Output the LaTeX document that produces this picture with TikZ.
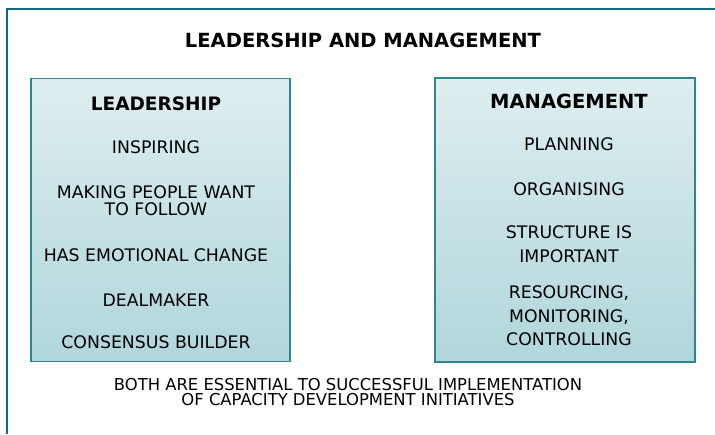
\documentclass[tikz,border=0pt]{standalone}
\usepackage{fontspec}
\setmainfont{DejaVu Sans}
\definecolor{framecol}{HTML}{0F6A80}
\definecolor{boxline}{HTML}{2F8490}
\definecolor{boxtop}{HTML}{DEEEF0}
\definecolor{boxbot}{HTML}{B0D6DB}
\begin{document}
\begin{tikzpicture}[x=1pt,y=-1pt,
  panel/.style={draw=boxline, line width=1.6pt, top color=boxtop, bottom color=boxbot, inner sep=0pt},
  heading/.style={font=\fontsize{18.5}{18.5}\selectfont\bfseries, inner sep=0pt, align=center},
  itemL/.style={font=\fontsize{17.3}{17}\selectfont, inner sep=0pt, align=center},
  itemR/.style={font=\fontsize{17.3}{23.5}\selectfont, inner sep=0pt, align=center},
  foottext/.style={font=\fontsize{16.4}{15}\selectfont, inner sep=0pt, align=center}]
\useasboundingbox (0,0) rectangle (715,434);
\fill[white] (0,0) rectangle (715,434);
% outer frame (open at right and bottom)
\draw[framecol, line width=2.6pt] (7,434) -- (7,9) -- (715,9);
% title
\node[heading, font=\fontsize{19.5}{19.5}\selectfont\bfseries] (title) at (363,40) {LEADERSHIP AND MANAGEMENT};
% panels
\node[panel, minimum width=259pt, minimum height=283pt] (lbox) at (160.5,220) {};
\node[panel, minimum width=260pt, minimum height=284pt] (mbox) at (565,220) {};
% leadership
\node[heading] (lhead) at (156,104) {LEADERSHIP};
\node[itemL] (l1) at (156,147) {INSPIRING};
\node[itemL] (l2) at (156,200.5) {MAKING PEOPLE WANT\\TO FOLLOW};
\node[itemL] (l3) at (156,255) {HAS EMOTIONAL CHANGE};
\node[itemL] (l4) at (156,300) {DEALMAKER};
\node[itemL] (l5) at (156,342) {CONSENSUS BUILDER};
% management
\node[heading, font=\fontsize{19.5}{19.5}\selectfont\bfseries] (mhead) at (569,101) {MANAGEMENT};
\node[itemR] (m1) at (569,144) {PLANNING};
\node[itemR] (m2) at (569,189) {ORGANISING};
\node[itemR] (m3) at (569,244) {STRUCTURE IS\\IMPORTANT};
\node[itemR] (m4) at (569,316) {RESOURCING,\\MONITORING,\\CONTROLLING};
% footer
\node[foottext] (foot) at (348,392.5) {BOTH ARE ESSENTIAL TO SUCCESSFUL IMPLEMENTATION\\OF CAPACITY DEVELOPMENT INITIATIVES};
\end{tikzpicture}
\end{document}
